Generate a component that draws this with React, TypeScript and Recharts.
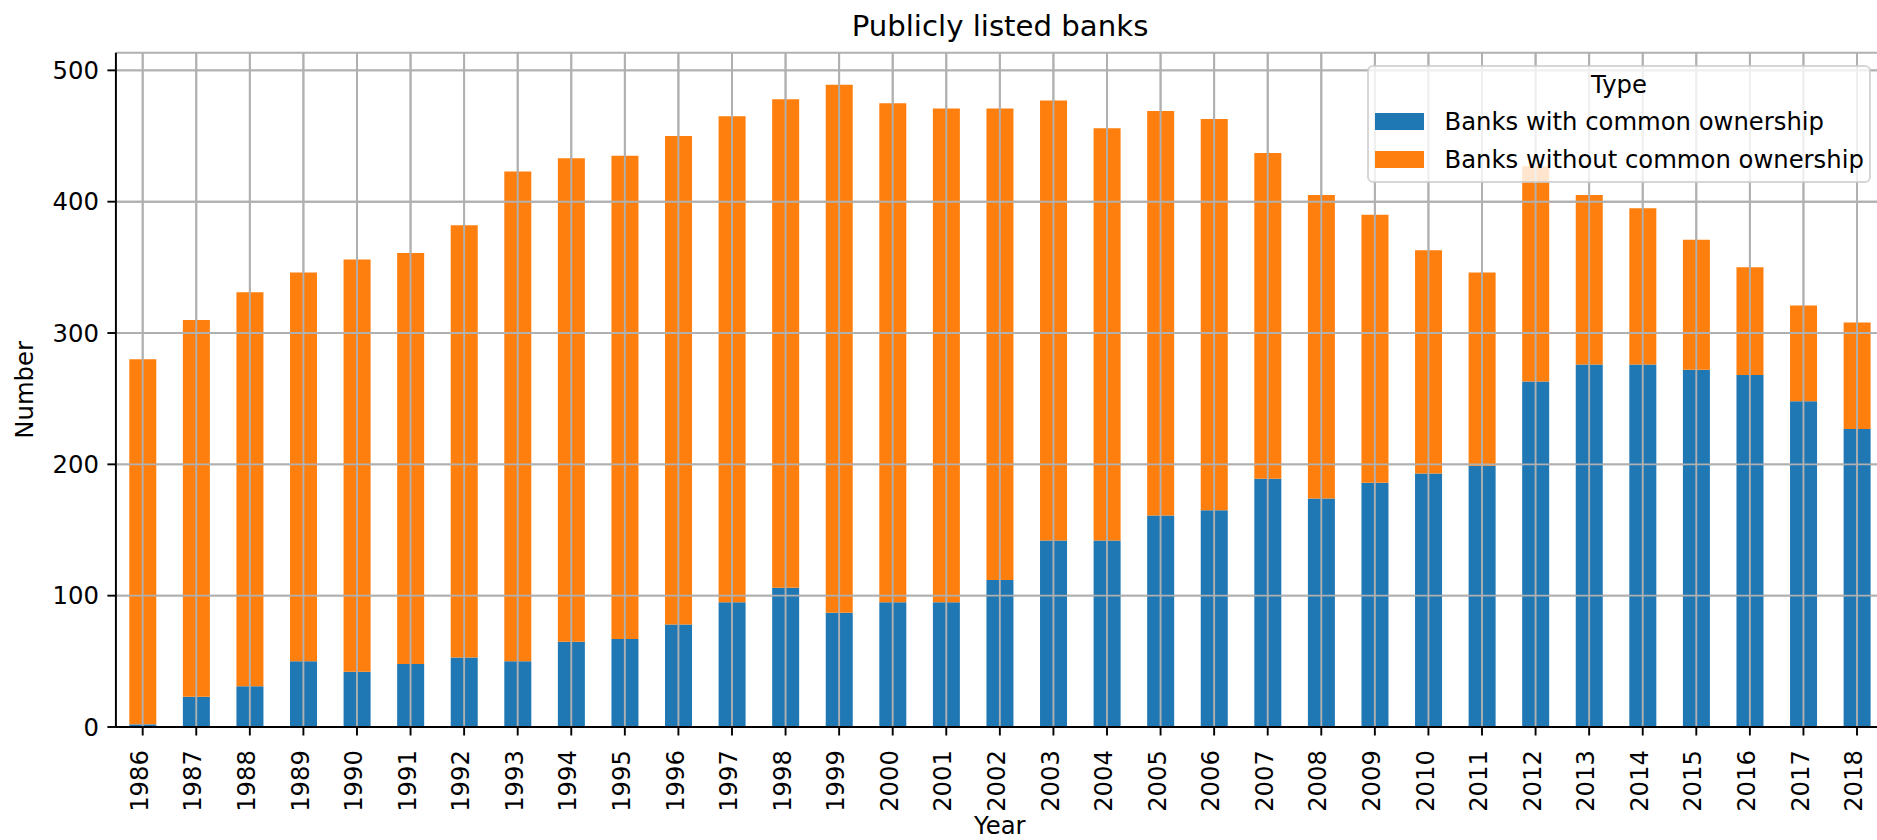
import React from 'react';
import { BarChart, Bar, XAxis, YAxis, CartesianGrid, Legend, ReferenceLine } from 'recharts';

const years = [
  '1986', '1987', '1988', '1989', '1990', '1991', '1992', '1993', '1994', '1995', '1996',
  '1997', '1998', '1999', '2000', '2001', '2002', '2003', '2004', '2005', '2006', '2007',
  '2008', '2009', '2010', '2011', '2012', '2013', '2014', '2015', '2016', '2017', '2018',
];

const withCommon = [
  2, 23, 31, 50, 42, 48, 53, 50, 65, 67, 78,
  95, 106, 87, 95, 95, 112, 142, 142, 161, 165, 189,
  174, 186, 193, 199, 263, 276, 276, 272, 268, 248, 227,
];

const withoutCommon = [
  278, 287, 300, 296, 314, 313, 329, 373, 368, 368, 372,
  370, 372, 402, 380, 376, 359, 335, 314, 308, 298, 248,
  231, 204, 170, 147, 164, 129, 119, 99, 82, 73, 81,
];

const yTicks = [0, 100, 200, 300, 400, 500];
const seriesNames = ['Banks with common ownership', 'Banks without common ownership'];
const seriesColors = ['#1f77b4', '#ff7f0e'];
const legendTitle = 'Type';
const chartTitle = 'Publicly listed banks';
const xLabel = 'Year';
const yLabel = 'Number';

const data = years.map((year, i) => ({
  year,
  withCommon: withCommon[i],
  withoutCommon: withoutCommon[i],
}));

const yMax = Math.max(...data.map((d) => d.withCommon + d.withoutCommon)) * 1.05;

const FONT = '"DejaVu Sans", sans-serif';
const TICK_FS = 24.3;
const TITLE_FS = 29.2;
const LINE_W = 1.9;
const GRID_COLOR = '#b0b0b0';

const XTick = (props: any) => {
  const { x, y, payload } = props;
  const ax = x - 3.4;
  return (
    <text
      x={ax}
      y={y}
      dy="0.35em"
      transform={`rotate(-90 ${ax} ${y})`}
      textAnchor="end"
      fontSize={TICK_FS}
      fontFamily={FONT}
      fill="#000"
    >
      {payload.value}
    </text>
  );
};

const YLabel = (props: any) => {
  const vb = props && props.viewBox ? props.viewBox : { x: 0, y: 52.7, width: 115.9, height: 674.3 };
  const cx = 33.5;
  const cy = vb.y + vb.height / 2;
  return (
    <text
      x={cx}
      y={cy}
      transform={`rotate(-90 ${cx} ${cy})`}
      textAnchor="middle"
      fontSize={TICK_FS}
      fontFamily={FONT}
      fill="#000"
    >
      {yLabel}
    </text>
  );
};

const LegendBox = () => (
  <svg width={504} height={118} style={{ display: 'block' }}>
    <rect
      x={1}
      y={1}
      width={502}
      height={116}
      rx={5}
      ry={5}
      fill="#ffffff"
      fillOpacity={0.8}
      stroke="#cccccc"
      strokeOpacity={0.8}
      strokeWidth={2}
    />
    <text x={252} y={28} textAnchor="middle" fontSize={TICK_FS} fontFamily={FONT} fill="#000">
      {legendTitle}
    </text>
    <rect x={8} y={48} width={49} height={17} fill={seriesColors[0]} />
    <text x={77.5} y={65} fontSize={TICK_FS} fontFamily={FONT} fill="#000">
      {seriesNames[0]}
    </text>
    <rect x={8} y={86} width={49} height={17} fill={seriesColors[1]} />
    <text x={77.5} y={102.7} fontSize={TICK_FS} fontFamily={FONT} fill="#000">
      {seriesNames[1]}
    </text>
  </svg>
);

export default function App() {
  return (
    <div
      style={{
        position: 'fixed',
        left: 0,
        top: 0,
        width: 1877,
        height: 840,
        overflow: 'hidden',
        background: '#ffffff',
        fontFamily: FONT,
      }}
    >
      <BarChart
        width={1900}
        height={840}
        data={data}
        margin={{ top: 52.7, right: 16.2, bottom: 0, left: 0 }}
        barCategoryGap="25%"
      >
        <CartesianGrid stroke={GRID_COLOR} strokeWidth={LINE_W} />
        <XAxis
          dataKey="year"
          interval={0}
          height={113}
          tick={<XTick />}
          tickSize={8.5}
          tickMargin={14.5}
          axisLine={{ stroke: '#000', strokeWidth: LINE_W }}
          tickLine={{ stroke: '#000', strokeWidth: LINE_W }}
          label={{ value: xLabel, position: 'insideBottom', offset: 5.6, fontSize: TICK_FS, fill: '#000', fontFamily: FONT }}
        />
        <XAxis
          xAxisId="top"
          orientation="top"
          dataKey="year"
          height={0}
          tick={false}
          tickLine={false}
          axisLine={{ stroke: '#000', strokeWidth: LINE_W }}
        />
        <YAxis
          type="number"
          width={115.9}
          domain={[0, yMax]}
          ticks={yTicks}
          interval={0}
          tickSize={8.5}
          tickMargin={8.5}
          tick={{ fill: '#000', fontSize: TICK_FS, fontFamily: FONT }}
          axisLine={{ stroke: '#000', strokeWidth: LINE_W }}
          tickLine={{ stroke: '#000', strokeWidth: LINE_W }}
          label={(p: any) => <YLabel {...p} />}
        />
        <Bar
          dataKey="withCommon"
          name={seriesNames[0]}
          stackId="a"
          fill={seriesColors[0]}
          isAnimationActive={false}
        />
        <Bar
          dataKey="withoutCommon"
          name={seriesNames[1]}
          stackId="a"
          fill={seriesColors[1]}
          isAnimationActive={false}
        />
        {years.map((yr) => (
          <ReferenceLine key={`vx-${yr}`} x={yr} stroke={GRID_COLOR} strokeWidth={LINE_W} />
        ))}
        {yTicks.filter((t) => t > 0).map((t) => (
          <ReferenceLine key={`hy-${t}`} y={t} stroke={GRID_COLOR} strokeWidth={LINE_W} />
        ))}
        <Legend
          layout="vertical"
          align="center"
          verticalAlign="middle"
          content={() => <LegendBox />}
          wrapperStyle={{ left: 1367, top: 65, width: 504, height: 118 }}
        />
      </BarChart>
      <svg width={1877} height={52} style={{ position: 'absolute', left: 0, top: 0 }}>
        <text x={1000} y={36} textAnchor="middle" fontSize={TITLE_FS} fontFamily={FONT} fill="#000">
          {chartTitle}
        </text>
      </svg>
    </div>
  );
}
